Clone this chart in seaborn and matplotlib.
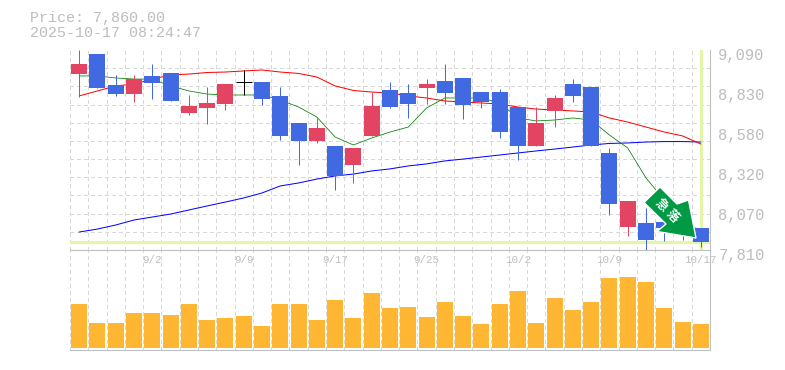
import numpy as np
import pandas as pd
import matplotlib.pyplot as plt
import seaborn as sns
from matplotlib.patches import Polygon
from matplotlib.transforms import ScaledTranslation, IdentityTransform

sns.set_style("white")
plt.rcParams['font.family'] = ['Liberation Mono', 'DejaVu Sans Mono']

# 四本値 (読み取り)
opens = [8936, 9064, 8866, 8808, 8924, 8943, 8687, 8719, 8744, 8885, 8885, 8796, 8623, 8508, 8476, 8354, 8540, 8834,
         8815, 8847, 8892, 8911, 8821, 8821, 8725, 8476, 8700, 8872, 8853, 8431, 7957, 7983, 7989, 8000, 7951]
highs = [9090, 9064, 8930, 8930, 9000, 8943, 8802, 8853, 8872, 8962, 8885, 8853, 8623, 8655, 8476, 8463, 8821, 8885,
         8872, 8904, 9000, 8911, 8821, 8840, 8725, 8725, 8802, 8904, 8853, 8463, 8124, 8079, 7989, 8000, 7951]
lows = [8791, 8847, 8796, 8757, 8776, 8764, 8674, 8616, 8706, 8802, 8738, 8514, 8354, 8495, 8194, 8239, 8540, 8719,
        8655, 8744, 8744, 8648, 8719, 8527, 8386, 8476, 8597, 8757, 8476, 8034, 7900, 7810, 7868, 7874, 7829]
closes = [9000, 8847, 8808, 8904, 8879, 8764, 8732, 8751, 8872, 8885, 8776, 8540, 8508, 8591, 8284, 8463, 8732, 8725,
          8744, 8872, 8815, 8738, 8757, 8565, 8476, 8623, 8783, 8796, 8476, 8104, 8124, 7874, 7951, 7951, 7860]
volume = [133, 76, 76, 106, 106, 100, 133, 85, 91, 97, 67, 133, 133, 85, 145, 91, 166, 121,
          124, 94, 139, 97, 73, 133, 172, 76, 151, 115, 139, 211, 214, 199, 121, 79, 73]

# 移動平均
ma_short = [8924, 8924, 8911, 8904, 8904, 8860, 8828, 8808, 8802, 8802, 8802, 8770, 8725, 8661, 8533, 8482, 8527, 8565,
            8597, 8719, 8783, 8783, 8783, 8751, 8655, 8636, 8642, 8655, 8642, 8546, 8463, 8271, 8130, 7965, 7944]
ma_mid = [8796, 8828, 8860, 8872, 8904, 8930, 8936, 8946, 8949, 8956, 8962, 8949, 8940, 8917, 8860, 8831, 8821, 8815,
          8796, 8783, 8764, 8757, 8751, 8744, 8725, 8712, 8706, 8700, 8693, 8655, 8629, 8597, 8565, 8540, 8488]
ma_long = [7925, 7944, 7970, 8002, 8021, 8040, 8066, 8092, 8117, 8143, 8175, 8220, 8239, 8264, 8284, 8296, 8316, 8329,
           8348, 8361, 8380, 8392, 8405, 8418, 8431, 8444, 8456, 8469, 8482, 8492, 8495, 8501, 8504, 8504, 8501]

date_ticks = [4, 9, 14, 19, 24, 29, 34]
date_labels = ['9/2', '9/9', '9/17', '9/25', '10/2', '10/9', '10/17']
price_labels = ['7,810', '8,070', '8,320', '8,580', '8,830', '9,090']
last_price = 7860

W, H = 785, 370
TXT = '#bdbdbd'
GRID = '#d8d8d8'
SPINE = '#c0c0c0'
UP = '#e24462'
DOWN = '#4169e1'
HILITE = '#e3f5a8'
ARROW = '#009944'
DASH = (0, (3, 3))

fig = plt.figure(figsize=(W / 100, H / 100), dpi=100)
ax = fig.add_axes([70 / W, 1 - 250 / H, 640 / W, 200 / H])
ax_v = fig.add_axes([70 / W, 1 - 350 / H, 640 / W, 100 / H])

df = pd.DataFrame({'i': range(len(opens)), 'o': opens, 'h': highs, 'l': lows, 'c': closes,
                   'vol': volume, 'ma_s': ma_short, 'ma_m': ma_mid, 'ma_l': ma_long})

for a in (ax, ax_v):
    a.set_xlim(-0.5, len(df) - 0.5)
    a.set_xticks(np.arange(-0.5, len(df), 1), minor=True)
    a.grid(True, which='minor', axis='x', color=GRID, linestyle=DASH, linewidth=0.72, antialiased=False)
    a.set_axisbelow(True)
    for s in a.spines.values():
        s.set_visible(False)
    a.spines['right'].set_visible(True)
    a.spines['bottom'].set_visible(True)
    a.spines['right'].set_color(SPINE)
    a.spines['bottom'].set_color(SPINE)
    a.spines['right'].set_linewidth(0.8)
    a.spines['bottom'].set_linewidth(0.8)
    a.tick_params(which='both', length=0)

# ローソク足
ax.set_ylim(7810, 9090)
ax.set_yticks(np.linspace(7810, 9090, 12), minor=True)
ax.grid(True, which='minor', axis='y', color=GRID, linestyle=DASH, linewidth=0.72, antialiased=False)
ax.grid(False, which='major')

ax.axhline(last_price, color=HILITE, linewidth=2.3, zorder=1)
ax.axvline(34, color=HILITE, linewidth=2.3, zorder=1)

for col, c, lw in [('ma_l', '#0000ff', 0.72), ('ma_m', '#ff0000', 0.72), ('ma_s', '#008000', 0.55)]:
    sns.lineplot(data=df, x='i', y=col, ax=ax, color=c, linewidth=lw, zorder=2, legend=False)

for _, r in df.iterrows():
    if r['c'] == r['o']:
        col = 'black'
    elif r['c'] > r['o']:
        col = UP
    else:
        col = DOWN
    ax.vlines(r['i'], r['l'], r['h'], color=col, linewidth=0.72, zorder=3)
    if r['c'] == r['o']:
        ax.hlines(r['c'], r['i'] - 0.44, r['i'] + 0.44, color=col, linewidth=0.72, zorder=3)
    else:
        ax.bar(r['i'], abs(r['c'] - r['o']), bottom=min(r['c'], r['o']), width=0.875, color=col,
               linewidth=0, zorder=3)

ax.set_xlabel('')
ax.set_ylabel('')
ax.set_xticks([])
ax.yaxis.tick_right()
ax.set_yticks(np.linspace(7810, 9090, 6))
ax.set_yticklabels(price_labels, fontsize=11.2, color=TXT)
ax.tick_params(axis='y', which='major', pad=6, length=0)
shift = ScaledTranslation(0, -3 / 72, fig.dpi_scale_trans)
for t in ax.get_yticklabels():
    t.set_transform(t.get_transform() + shift)

# 出来高
sns.barplot(data=df, x='i', y='vol', ax=ax_v, color='#ffb733', width=0.875, native_scale=True,
            saturation=1, linewidth=0, zorder=3)
ax_v.set_xlim(-0.5, len(df) - 0.5)
ax_v.set_ylim(-6, 294)
ax_v.set_yticks([])
ax_v.set_xlabel('')
ax_v.set_ylabel('')
ax_v.spines['top'].set_visible(True)
ax_v.spines['top'].set_color(SPINE)
ax_v.spines['top'].set_linewidth(0.8)
ax_v.xaxis.tick_top()
ax_v.set_xticks(date_ticks)
ax_v.set_xticklabels(date_labels, fontsize=7.8, color=TXT)
ax_v.tick_params(axis='x', which='major', pad=-11, length=0)
ax_v.grid(False, which='major')

# 矢印 (ピクセル座標)
arrow_px = [(660, 187), (644, 202.5), (666, 224), (657, 231.5), (696, 238), (688.5, 200), (677, 204)]
arrow_xy = [(x, H - y) for x, y in arrow_px]
fig.add_artist(Polygon(arrow_xy, closed=True, facecolor=ARROW, edgecolor='white', linewidth=1.0,
                       transform=IdentityTransform(), zorder=6))
fig.text(661 / W, 1 - 205 / H, '急', fontsize=9, color='white', rotation=-45, ha='center', va='center',
         family=['Noto Sans CJK JP', 'DejaVu Sans'], fontweight='bold', zorder=7)
fig.text(672 / W, 1 - 216 / H, '落', fontsize=9, color='white', rotation=-45, ha='center', va='center',
         family=['Noto Sans CJK JP', 'DejaVu Sans'], fontweight='bold', zorder=7)

# ヘッダ
fig.text(30 / W, 1 - 18 / H, 'Price: 7,860.00', fontsize=10.8, color=TXT, va='center', ha='left')
fig.text(30 / W, 1 - 33 / H, '2025-10-17 08:24:47', fontsize=10.8, color=TXT, va='center', ha='left')

fig.savefig('out.png', dpi=100)
